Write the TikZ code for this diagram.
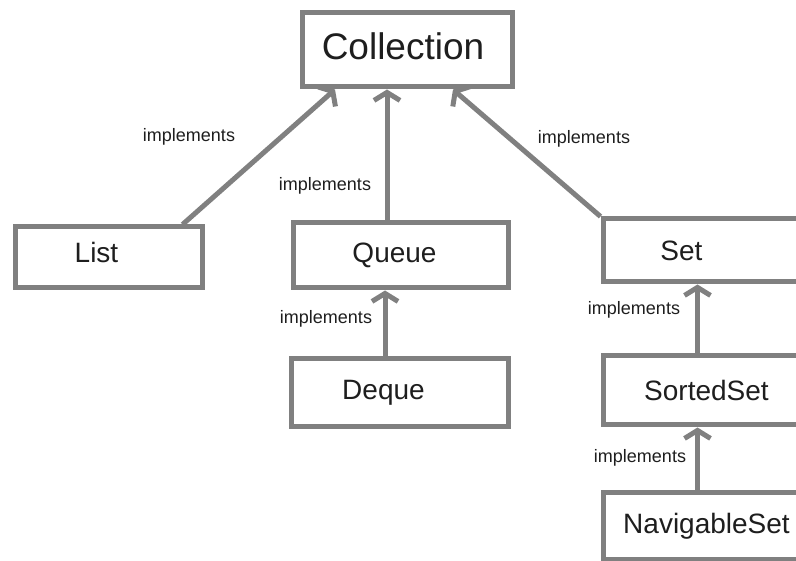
\documentclass[tikz,border=0pt]{standalone}
\usepackage{fontspec}
\setmainfont{Liberation Sans}
\usepackage{tikz}
\usetikzlibrary{arrows.meta}
\definecolor{linegray}{RGB}{128,128,128}
\definecolor{inkgray}{RGB}{30,30,30}
\newcommand\collfont{\fontsize{37}{40}\selectfont}
\newcommand\namefont{\fontsize{28}{32}\selectfont}
\newcommand\implfont{\fontsize{18}{20}\selectfont}
\tikzset{
  iface/.style = {draw=linegray, line width=5pt, fill=white, inner sep=0pt},
  impl/.style = {draw=linegray, line width=5pt,
    -{Straight Barb[length=8pt, width=26pt]}},
  note/.style = {font=\implfont, text=inkgray, inner sep=0pt},
  every label/.style = {font=\namefont, text=inkgray, inner sep=0pt}
}

\begin{document}
\begin{tikzpicture}[x=1pt, y=-1pt]
\useasboundingbox (0,0) rectangle (796,561);
\clip (0,0) rectangle (796,561);
% interfaces
\node [iface, minimum width=210pt, minimum height=74pt,
  label={[font=\collfont, xshift=-4pt, yshift=4pt]center:Collection}] (coll) at (407,50) {};
\node [iface, minimum width=187pt, minimum height=61pt,
  label={[xshift=-12pt, yshift=5pt]center:List}] (list) at (108.5,257.5) {};
\node [iface, minimum width=215pt, minimum height=65pt,
  label={[xshift=-6pt]center:Queue}] (queue) at (400.5,255.5) {};
\node [iface, minimum width=217pt, minimum height=68pt,
  label={[xshift=-16pt]center:Deque}] (deque) at (399.5,393) {};
\node [iface, minimum width=207pt, minimum height=63pt,
  label={[xshift=-25pt]center:Set}] (set) at (706.5,250.5) {};
\node [iface, minimum width=207pt, minimum height=69pt,
  label={center:SortedSet}] (sorted) at (706.5,390.5) {};
\node [iface, minimum width=207pt, minimum height=66pt,
  label={center:NavigableSet}] (navig) at (706.5,526) {};
% implements arrows
\draw [impl] ([xshift=-22pt]list.north east) -- ([xshift=-72pt]coll.south);
\draw [impl] ([xshift=-13.5pt]queue.north) -- ([xshift=-20pt]coll.south);
\draw [impl] (set.north west) -- ([xshift=46pt]coll.south);
\draw [impl] ([xshift=-14.5pt]deque.north) -- ([xshift=-15.5pt]queue.south);
\draw [impl] ([xshift=-9pt]sorted.north) -- ([xshift=-9pt]set.south);
\draw [impl] ([xshift=-9pt]navig.north) -- ([xshift=-9pt]sorted.south);
% labels
\node [note] (implList) at (189,137) {implements};
\node [note] (implQueue) at (325,186) {implements};
\node [note] (implSet) at (584,139) {implements};
\node [note] (implDeque) at (326,319) {implements};
\node [note] (implSorted) at (634,310) {implements};
\node [note] (implNavig) at (640,458) {implements};
\end{tikzpicture}
\end{document}
